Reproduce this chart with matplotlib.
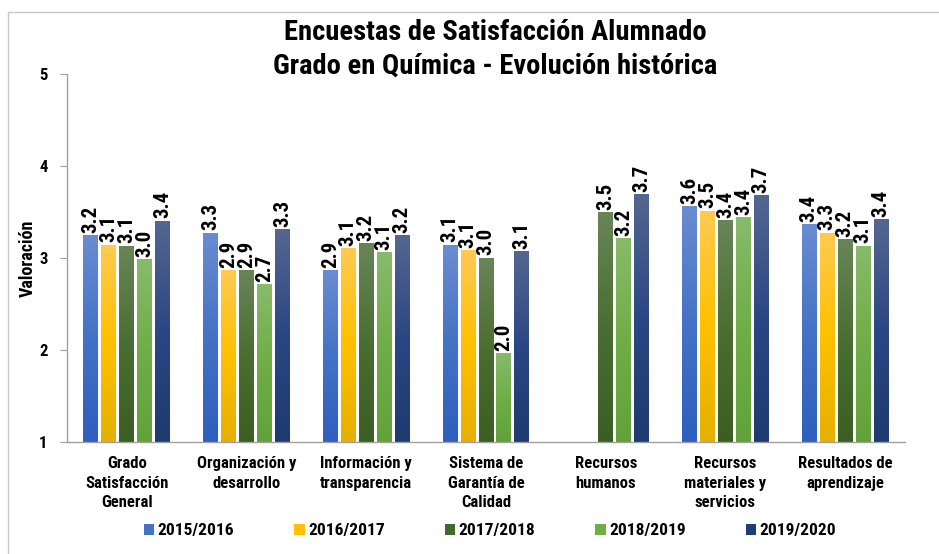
import numpy as np
import matplotlib
matplotlib.use("Agg")
import matplotlib.pyplot as plt
from matplotlib.colors import LinearSegmentedColormap
from matplotlib.patches import Rectangle, Patch

plt.rcParams['font.family'] = ['Roboto Condensed', 'DejaVu Sans']
plt.rcParams['font.weight'] = 'bold'

# data
categories = ["Grado\nSatisfacción\nGeneral", "Organización y\ndesarrollo",
              "Información y\ntransparencia", "Sistema de\nGarantía de\nCalidad",
              "Recursos\nhumanos", "Recursos\nmateriales y\nservicios",
              "Resultados de\naprendizaje"]
years = ["2015/2016", "2016/2017", "2017/2018", "2018/2019", "2019/2020"]
v_1516 = [3.24, 3.27, 2.86, 3.14, np.nan, 3.56, 3.36]
v_1617 = [3.14, 2.86, 3.10, 3.08, np.nan, 3.51, 3.27]
v_1718 = [3.13, 2.86, 3.16, 3.00, 3.49, 3.41, 3.20]
v_1819 = [2.98, 2.71, 3.06, 1.96, 3.21, 3.44, 3.13]
v_1920 = [3.40, 3.31, 3.24, 3.07, 3.69, 3.68, 3.42]
series = [v_1516, v_1617, v_1718, v_1819, v_1920]

# (top, middle, bottom) gradient colours per series
grads = [("#6a8cd2", "#4472c4", "#2e5fbf"),
         ("#ffca50", "#ffc000", "#e5b000"),
         ("#688558", "#4a6e31", "#3b5e22"),
         ("#88bb6a", "#70ad47", "#63a23a"),
         ("#556790", "#2b4684", "#1e3a70")]
legend_cols = ["#4472c4", "#ffc000", "#43682b", "#70ad47", "#203c74"]

fig = plt.figure(figsize=(9.39, 5.54), dpi=100)
ax = fig.add_axes([67/939, 1 - 442/554, (905 - 67)/939, (442 - 74)/554])

# thin grey frame of the chart area
fig.patches.append(Rectangle((8/939, -0.1), 1.2, 1.1 - 12/554,
                             transform=fig.transFigure, fill=False,
                             edgecolor="#c8c8c8", linewidth=1.0))

x = np.arange(len(categories))
step = 0.15
width = 0.125
grad = np.linspace(1, 0, 256).reshape(-1, 1)

for i, vals in enumerate(series):
    cmap = LinearSegmentedColormap.from_list("g%d" % i, grads[i][::-1])
    pos = x + (i - 2) * step
    for p, v in zip(pos, vals):
        if np.isnan(v):
            continue
        ax.imshow(grad, cmap=cmap, aspect="auto", origin="upper",
                  extent=(p - width/2, p + width/2, 1, v), zorder=2)
        ax.text(p, v + 0.03, "%.1f" % v, rotation=90, ha="center", va="bottom",
                fontsize=15, fontweight="bold")

ax.set_xlim(-0.5, len(categories) - 0.5)
ax.set_ylim(1, 5)
ax.set_yticks([1, 2, 3, 4, 5])
ax.set_xticks(x)
ax.set_xticklabels(categories, fontsize=12, fontweight="bold", linespacing=1.4)
ax.tick_params(axis="x", length=0, pad=10)
ax.tick_params(axis="y", length=5, color="#a0a0a0", labelsize=12, pad=9)
for lbl in ax.get_yticklabels():
    lbl.set_fontweight("bold")
for s in ["top", "right"]:
    ax.spines[s].set_visible(False)
for s in ["left", "bottom"]:
    ax.spines[s].set_color("#a0a0a0")
    ax.spines[s].set_linewidth(1.0)

ax.set_ylabel("Valoración", fontsize=13, fontweight="bold", va="center")
ax.yaxis.set_label_coords(-0.047, 0.5)

fig.text(495/939, 1 - 33/554, "Encuestas de Satisfacción Alumnado",
         ha="center", va="center", fontsize=20.5, fontweight="bold")
fig.text(495/939, 1 - 66/554, "Grado en Química - Evolución histórica",
         ha="center", va="center", fontsize=20.5, fontweight="bold")

handles = [Patch(facecolor=c, edgecolor="none") for c in legend_cols]
fig.legend(handles, years, loc="center", bbox_to_anchor=(490/939, 1 - 531/554),
           ncol=5, frameon=False, handlelength=0.6, handleheight=0.6,
           handletextpad=0.2, columnspacing=3.45,
           prop={"size": 12.5, "weight": "bold"})

fig.savefig("out.png", dpi=100)
